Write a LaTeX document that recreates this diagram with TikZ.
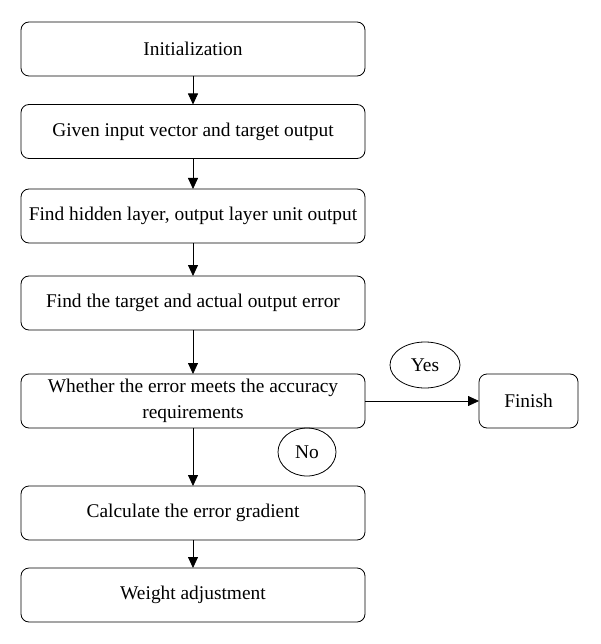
\documentclass[tikz,border=0pt]{standalone}
\usepackage{fontspec}
\setmainfont{Liberation Serif}
\usetikzlibrary{arrows.meta,shapes.geometric}
\begin{document}
\begin{tikzpicture}[x=1pt,y=-1pt,
  stepbox/.style={draw, rounded corners=8pt, line width=0.8pt, minimum width=344pt, minimum height=54pt, inner sep=0pt, outer sep=0pt, align=center, font=\fontsize{19.4}{26}\selectfont},
  finbox/.style={stepbox, minimum width=99pt},
  tag/.style={draw, ellipse, line width=0.8pt, inner sep=0pt, outer sep=0pt, font=\fontsize{19.4}{26}\selectfont},
  flow/.style={-{Triangle[length=11pt,width=10pt]}, line width=0.8pt}]
\useasboundingbox (0,0) rectangle (600,644);
\node[stepbox] (b1) at (193,49) {Initialization};
\node[stepbox] (b2) at (193,131.5) {Given input vector and target output};
\node[stepbox] (b3) at (193,216) {Find hidden layer, output layer unit output};
\node[stepbox] (b4) at (193,303) {Find the target and actual output error};
\node[stepbox] (b5) at (193,401) {Whether the error meets the accuracy\\requirements};
\node[stepbox] (b6) at (193,513) {Calculate the error gradient};
\node[stepbox] (b7) at (193,595) {Weight adjustment};
\node[finbox] (fin) at (528.5,401) {Finish};
\node[tag, minimum width=70pt, minimum height=46pt] (yes) at (425,365) {Yes};
\node[tag, minimum width=58pt, minimum height=48pt] (no) at (307,452) {No};
\draw[flow] (b1) -- (b2);
\draw[flow] (b2) -- (b3);
\draw[flow] (b3) -- (b4);
\draw[flow] (b4) -- (b5);
\draw[flow] (b5) -- (b6);
\draw[flow] (b6) -- (b7);
\draw[flow] (b5) -- (fin);
\end{tikzpicture}
\end{document}
